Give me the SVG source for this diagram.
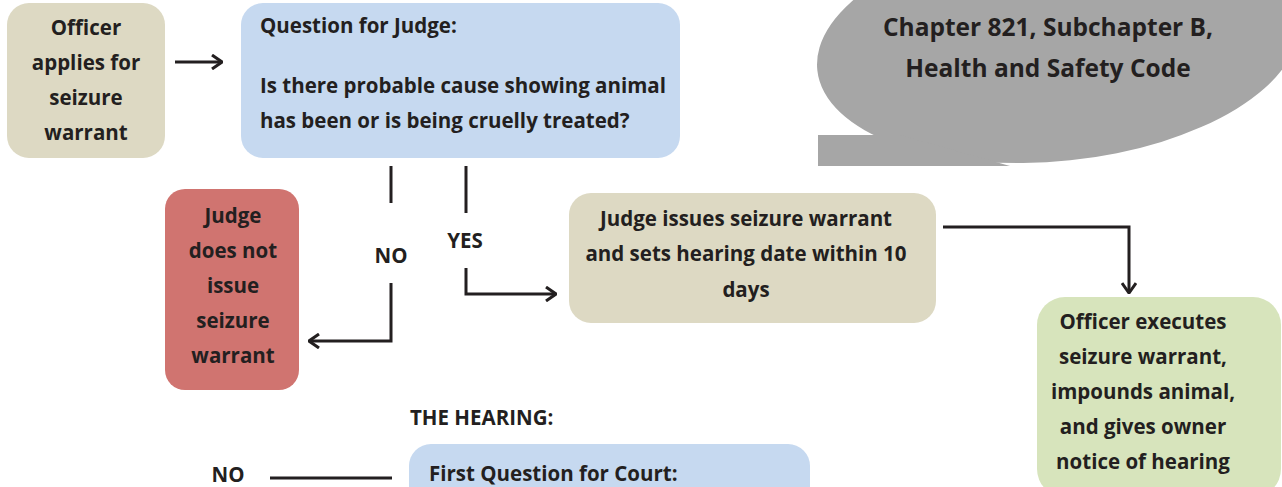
<svg xmlns="http://www.w3.org/2000/svg" width="1282" height="487" viewBox="0 0 1282 487">
<defs>
<style>
text{font-family:"Open Sans",Lato,"Liberation Sans",sans-serif;font-weight:bold;fill:#231f20}
.c{text-anchor:middle}
.t{font-size:20.5px}
.ln{fill:none;stroke:#231f20;stroke-width:3}
</style>
<marker id="ah" viewBox="0 0 12 16" refX="11" refY="8" markerWidth="12" markerHeight="16" markerUnits="userSpaceOnUse" orient="auto">
<path d="M1,1 L11,8 L1,15" fill="none" stroke="#231f20" stroke-width="3"/>
</marker>
</defs>
<rect width="1282" height="487" fill="#fff"/>
<g id="chapter">
<ellipse cx="1058" cy="45" rx="242" ry="116" fill="#a6a6a6" transform="rotate(-6 1058 45)"/>
<polygon points="818,135 900,135 1010,166 818,166" fill="#a6a6a6"/>
<text class="c" x="1048" y="36" font-size="24.5">Chapter 821, Subchapter B,</text>
<text class="c" x="1048" y="77" font-size="24.5">Health and Safety Code</text>
</g>
<g id="officer-applies">
<rect x="7" y="3" width="158" height="155" rx="22" fill="#ddd9c3"/>
<text class="c t" x="86" y="35">Officer</text>
<text class="c t" x="86" y="70">applies for</text>
<text class="c t" x="86" y="105">seizure</text>
<text class="c t" x="86" y="140">warrant</text>
</g>
<g id="question-judge">
<rect x="241" y="3" width="439" height="155" rx="22" fill="#c6d9f0"/>
<text class="t" x="260" y="33">Question for Judge:</text>
<text class="t" x="260" y="93">Is there probable cause showing animal</text>
<text class="t" x="260" y="128">has been or is being cruelly treated?</text>
</g>
<g id="judge-not-issue">
<rect x="165" y="189" width="134" height="201" rx="20" fill="#d07470"/>
<text class="c t" x="233" y="223">Judge</text>
<text class="c t" x="233" y="258">does not</text>
<text class="c t" x="233" y="293">issue</text>
<text class="c t" x="233" y="328">seizure</text>
<text class="c t" x="233" y="363">warrant</text>
</g>
<g id="judge-issues">
<rect x="569" y="193" width="367" height="130" rx="22" fill="#ddd9c3"/>
<text class="c t" x="746" y="226">Judge issues seizure warrant</text>
<text class="c t" x="746" y="261">and sets hearing date within 10</text>
<text class="c t" x="746" y="297">days</text>
</g>
<g id="officer-executes">
<rect x="1037" y="297" width="244" height="200" rx="28" fill="#d7e4bc"/>
<text class="c t" x="1143" y="329">Officer executes</text>
<text class="c t" x="1143" y="364">seizure warrant,</text>
<text class="c t" x="1143" y="399">impounds animal,</text>
<text class="c t" x="1143" y="434">and gives owner</text>
<text class="c t" x="1143" y="469">notice of hearing</text>
</g>
<g id="hearing-label">
<text class="t" x="410" y="425">THE HEARING:</text>
</g>
<g id="first-question">
<rect x="409" y="444" width="401" height="80" rx="22" fill="#c6d9f0"/>
<text class="t" x="429" y="481">First Question for Court:</text>
</g>
<g id="connectors">
<line class="ln" x1="175" y1="62" x2="222" y2="62" marker-end="url(#ah)"/>
<line class="ln" x1="391" y1="166" x2="391" y2="203"/>
<polyline class="ln" points="391,283 391,341 309,341" marker-end="url(#ah)"/>
<line class="ln" x1="466" y1="166" x2="466" y2="213"/>
<polyline class="ln" points="466,268 466,294 556,294" marker-end="url(#ah)"/>
<polyline class="ln" points="943,227 1129,227 1129,293" marker-end="url(#ah)"/>
<line class="ln" x1="270" y1="478" x2="392" y2="478"/>
<text class="c t" x="391" y="263">NO</text>
<text class="c t" x="465" y="248">YES</text>
<text class="c t" x="228" y="482">NO</text>
</g>
</svg>
